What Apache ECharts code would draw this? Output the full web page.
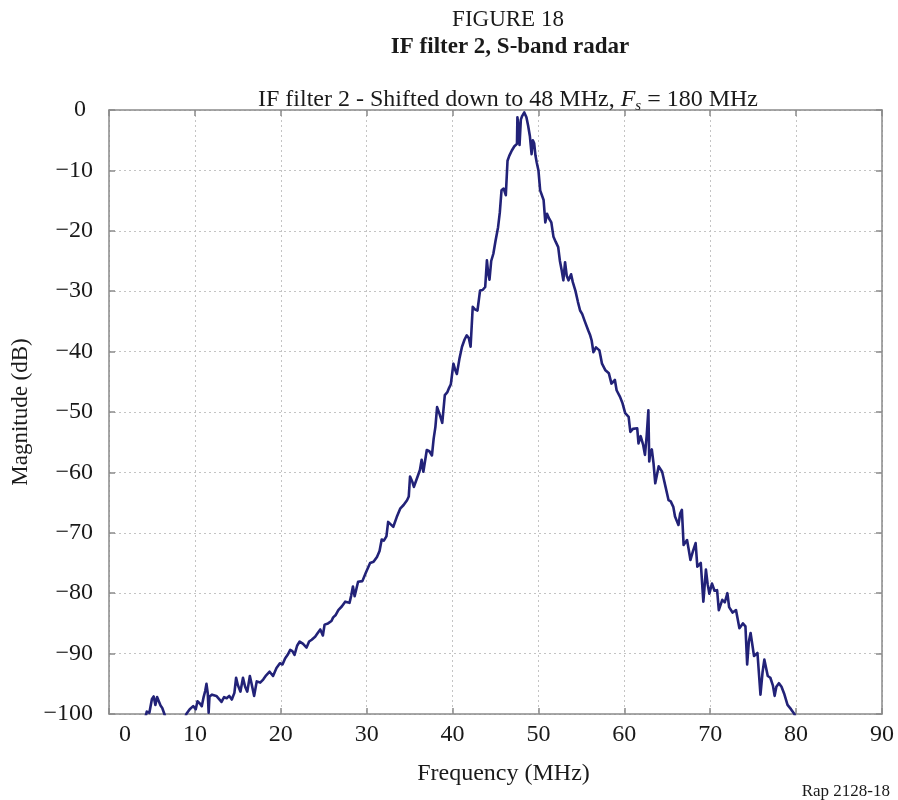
<!DOCTYPE html>
<html>
<head>
<meta charset="utf-8">
<script src="https://cdn.jsdelivr.net/npm/echarts@6/dist/echarts.min.js"></script>
<style>html,body{margin:0;padding:0;background:#fff}#c{width:898px;height:800px}</style>
</head>
<body>
<div id="c"></div>
<script>
var xTicks = [0, 10, 20, 30, 40, 50, 60, 70, 80, 90];
var yTicks = [-100, -90, -80, -70, -60, -50, -40, -30, -20, -10, 0];

var freq = [
4.0,4.4,4.7,5.0,5.2,5.4,5.6,5.8,6.0,6.2,6.5,6.8,8.5,9.0,9.4,9.8,10.1,10.3,10.6,10.8,
11.0,11.2,11.35,11.5,11.6,11.7,12.0,12.5,12.8,13.1,13.4,13.7,14.0,14.3,14.6,14.8,15.0,15.3,15.6,15.85,
16.1,16.4,16.6,16.9,17.2,17.6,17.95,18.3,18.7,19.1,19.5,19.9,20.2,20.5,20.8,21.1,21.35,21.6,21.9,22.2,
22.6,23.0,23.3,23.6,24.0,24.3,24.6,24.9,25.1,25.5,25.9,26.1,26.4,26.7,27.1,27.5,28.0,28.2,28.4,28.6,
29.0,29.5,29.9,30.4,30.8,31.2,31.5,31.75,32.0,32.3,32.5,32.8,33.1,33.5,33.9,34.3,34.7,34.9,35.05,35.3,
35.5,35.9,36.2,36.4,36.6,37.0,37.3,37.6,37.8,38.0,38.2,38.5,38.8,39.1,39.4,39.6,39.8,40.1,40.3,40.5,
40.8,41.1,41.4,41.65,41.9,42.1,42.35,42.6,42.9,43.2,43.5,43.8,44.0,44.15,44.3,44.5,44.75,45.0,45.3,45.5,
45.7,45.95,46.2,46.4,46.6,46.9,47.2,47.5,47.55,47.7,47.8,47.95,48.1,48.35,48.6,48.8,49.0,49.2,49.35,49.5,
49.65,49.8,50.0,50.2,50.4,50.6,50.8,51.0,51.25,51.5,51.75,52.0,52.3,52.5,52.7,52.9,53.1,53.3,53.5,53.8,
54.0,54.3,54.6,54.85,55.1,55.4,55.8,56.0,56.2,56.4,56.7,57.1,57.4,57.8,58.2,58.5,58.9,59.1,59.5,59.8,
60.1,60.5,60.7,61.0,61.2,61.5,61.65,61.9,62.2,62.4,62.6,62.8,62.9,63.0,63.2,63.4,63.6,64.0,64.4,64.8,
65.15,65.4,65.7,65.9,66.3,66.5,66.7,66.9,67.3,67.5,67.7,68.0,68.3,68.5,68.9,69.2,69.5,69.7,69.9,70.2,
70.5,70.8,71.0,71.4,71.7,72.0,72.2,72.6,73.0,73.4,73.8,74.1,74.3,74.5,74.7,75.1,75.5,75.85,76.1,76.3,
76.7,77.0,77.3,77.5,77.7,78.0,78.3,78.6,79.0,79.4,79.8,80.2
];
var magnitude = [
-102,-99.6,-99.8,-97.5,-97.1,-98.5,-97.2,-97.0,-98.6,-99.0,-100.2,-103,-103,-100,-99.2,-98.7,-99.2,-97.9,-98.3,-98.7,
-97.3,-96.2,-95.0,-96.6,-99.8,-97.1,-96.8,-97.0,-97.5,-98.0,-97.2,-97.4,-97.0,-97.6,-96.5,-94.0,-95.2,-96.3,-94.0,-95.5,
-96.3,-93.7,-95.0,-97.0,-94.6,-94.8,-94.3,-93.6,-93.0,-93.7,-92.4,-91.6,-91.8,-90.8,-90.2,-89.4,-89.6,-90.2,-88.7,-88.0,
-88.4,-89.0,-88.0,-87.7,-87.2,-86.6,-86.0,-87.0,-85.2,-85.0,-84.6,-84.0,-83.6,-82.8,-82.2,-81.4,-81.6,-80.4,-78.9,-80.5,
-78.1,-78.0,-76.6,-75.0,-74.8,-74.0,-73.0,-71.1,-71.3,-70.6,-68.2,-68.6,-69.0,-67.4,-66.0,-65.4,-64.6,-64.0,-60.7,-61.5,
-62.4,-60.8,-59.6,-57.9,-59.9,-56.3,-56.5,-57.2,-54.4,-52.5,-49.2,-50.4,-51.8,-47.2,-46.7,-46.0,-45.4,-42.0,-43.0,-43.7,
-41.2,-39.2,-38.0,-37.3,-37.8,-39.2,-32.6,-33.0,-33.2,-29.9,-29.8,-29.3,-24.9,-27.0,-28.1,-25.0,-23.8,-21.7,-19.4,-17.0,
-13.3,-13.0,-14.1,-8.4,-7.6,-6.7,-6.0,-5.6,-1.2,-3.0,-5.8,-1.6,-1.0,-0.4,-1.2,-2.6,-4.3,-7.3,-5.0,-5.5,
-7.5,-8.7,-10.0,-13.3,-13.5,-14.9,-18.6,-17.2,-18.0,-18.6,-21.0,-21.8,-22.7,-25.0,-26.5,-28.2,-25.2,-27.5,-28.2,-27.2,
-28.5,-29.9,-31.8,-33.2,-33.8,-35.0,-36.5,-37.2,-38.2,-40.1,-39.3,-39.8,-42.0,-43.1,-43.6,-45.3,-44.7,-46.4,-47.5,-48.6,
-50.2,-50.8,-53.3,-52.8,-52.5,-52.7,-55.2,-54.0,-55.5,-57.1,-54.0,-49.7,-58.2,-57.0,-56.2,-58.5,-61.8,-59.0,-59.9,-62.4,
-64.6,-64.8,-65.7,-67.3,-68.7,-66.8,-66.2,-72.0,-71.2,-72.8,-74.5,-73.0,-71.7,-75.6,-75.0,-81.4,-76.1,-78.5,-80.1,-78.4,
-79.6,-79.5,-82.8,-81.1,-81.5,-80.0,-82.3,-83.2,-82.8,-85.8,-85.0,-85.5,-91.8,-88.0,-86.6,-90.4,-89.9,-96.8,-93.0,-91.0,
-93.7,-94.0,-95.3,-97.0,-95.5,-94.9,-95.5,-96.6,-98.5,-99.2,-100,-101.5
];

var serif = '"Liberation Serif", "DejaVu Serif", serif';
var axisGray = '#8a8a8a';
var ink = '#1a1a1a';
var data = freq.map(function (f, i) { return [f, magnitude[i]]; });

var chart = echarts.init(document.getElementById('c'), null, { renderer: 'canvas' });

function boxAxis(extra) {
  return Object.assign({
    type: 'value',
    axisLine: { show: true, onZero: false, lineStyle: { color: axisGray, width: 1.5 } },
    axisTick: { show: true, inside: true, length: 6, lineStyle: { color: axisGray, width: 1.5 } },
    splitLine: { show: false },
    axisLabel: { show: false }
  }, extra);
}

chart.setOption({
  animation: false,
  backgroundColor: '#ffffff',
  title: [
    { text: 'FIGURE 18', left: 503, top: 3, textAlign: 'center',
      textStyle: { fontFamily: serif, fontSize: 23, fontWeight: 'normal', color: ink } },
    { text: 'IF filter 2, S-band radar', left: 505, top: 31, textAlign: 'center',
      textStyle: { fontFamily: serif, fontSize: 23, fontWeight: 'bold', color: ink } },
    { text: '{n|IF filter 2 - Shifted down to 48 MHz, }{i|F}{s|s}{n| = 180 MHz}', left: 503, top: 80, textAlign: 'center',
      textStyle: { fontFamily: serif, fontSize: 24, fontWeight: 'normal', color: ink,
        rich: {
          n: { fontFamily: serif, fontSize: 24, fontWeight: 'normal', color: ink },
          i: { fontFamily: serif, fontSize: 24, fontWeight: 'normal', fontStyle: 'italic', color: ink },
          s: { fontFamily: serif, fontSize: 15, fontWeight: 'normal', fontStyle: 'italic', color: ink, padding: [14, 0, 0, 0] }
        } } },
    { text: 'Rap 2128-18', right: 3, top: 778,
      textStyle: { fontFamily: serif, fontSize: 17, fontWeight: 'normal', color: ink } }
  ],
  grid: { left: 109, right: 16, top: 110, bottom: 86, containLabel: false },
  xAxis: [
    {
      type: 'value', min: 0, max: 90, interval: 10, position: 'bottom',
      name: 'Frequency (MHz)', nameLocation: 'middle', nameGap: 48,
      nameTextStyle: { fontFamily: serif, fontSize: 24, color: ink, padding: [0, 0, 0, 16] },
      axisLine: { show: true, onZero: false, lineStyle: { color: axisGray, width: 1.5 } },
      axisTick: { show: true, inside: true, length: 6, lineStyle: { color: axisGray, width: 1.5 } },
      axisLabel: {
        fontFamily: serif, fontSize: 24, color: ink, margin: 9,
        formatter: function (v) { return v === 0 ? '{z|0}' : String(v); },
        rich: { z: { fontFamily: serif, fontSize: 24, color: ink, padding: [0, 0, 0, 32] } }
      },
      splitLine: { show: true, lineStyle: { color: '#c4c4c4', width: 1, type: [2, 3] } }
    },
    boxAxis({ min: 0, max: 90, interval: 10, position: 'top' })
  ],
  yAxis: [
    {
      type: 'value', min: -100, max: 0, interval: 10, position: 'left',
      name: 'Magnitude (dB)', nameLocation: 'middle', nameGap: 76, nameRotate: 90,
      nameTextStyle: { fontFamily: serif, fontSize: 23, color: ink },
      axisLine: { show: true, onZero: false, lineStyle: { color: axisGray, width: 1.5 } },
      axisTick: { show: true, inside: true, length: 6, lineStyle: { color: axisGray, width: 1.5 } },
      axisLabel: {
        fontFamily: serif, fontSize: 24, color: ink, margin: 16,
        formatter: function (v) { return v < 0 ? '\u2212' + Math.abs(v) : '{z|' + v + '}'; },
        rich: { z: { fontFamily: serif, fontSize: 24, color: ink, padding: [0, 7, 0, 0] } }
      },
      splitLine: { show: true, lineStyle: { color: '#c4c4c4', width: 1, type: [2, 3] } }
    },
    boxAxis({ min: -100, max: 0, interval: 10, position: 'right' })
  ],
  series: [{
    type: 'line',
    data: data,
    xAxisIndex: 0, yAxisIndex: 0,
    showSymbol: false,
    clip: true,
    lineStyle: { color: '#222278', width: 2.6, join: 'round' },
    z: 5
  }]
});
</script>
</body>
</html>
